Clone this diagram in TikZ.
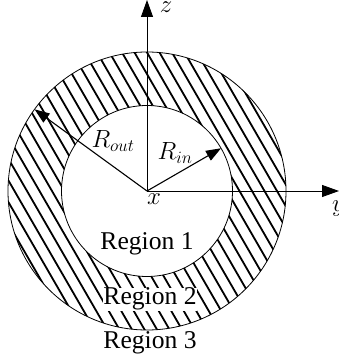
\documentclass[tikz,border=0pt]{standalone}
\usepackage{fontspec}
\setmainfont{Liberation Serif}
\usetikzlibrary{arrows.meta,calc}
\begin{document}
\begin{tikzpicture}[x=1pt,y=1pt,
  axis/.style={line width=0.9pt,-{Triangle[length=17pt,width=12pt]}},
  radius/.style={line width=1.1pt,-{Triangle[length=15pt,width=11pt]}},
  hatch/.style={line width=1.8pt},
  ring/.style={line width=0.8pt},
  regionlbl/.style={font=\fontsize{25.6}{28}\selectfont, inner sep=0.5pt, anchor=base},
  mathlbl/.style={font=\fontsize{24}{26}\selectfont, inner sep=0pt, anchor=base}]
\useasboundingbox (0,0) rectangle (339,364);
\coordinate (O) at (147,173);
% hatching of the ring
\begin{scope}[even odd rule]
  \clip (O) circle (139) (O) circle (85.5);
  \foreach \i in {-24,...,24} {
    \draw[hatch] ($(O)+(5+12.5*\i,0)+(-110,190.5)$) -- ($(O)+(5+12.5*\i,0)+(110,-190.5)$);
  }
\end{scope}
\draw[ring] (O) circle (139);
\draw[ring] (O) circle (85.5);
% axes
\coordinate (ztip) at (147,364);
\coordinate (ytip) at (339,173);
\draw[axis] (O) -- (ztip);
\draw[axis] (O) -- (ytip);
% radii
\coordinate (Pout) at ($(O)+(144:139)$);
\coordinate (Pin) at ($(O)+(30:85.5)$);
\draw[radius] (O) -- (Pout);
\draw[radius] (O) -- (Pin);
% labels
\node[mathlbl] (lz) at (166,351) {$z$};
\node[mathlbl, anchor=base west] (ly) at (332,152) {$y$};
\node[mathlbl] (lx) at (154,159) {$x$};
\node[mathlbl] (lRout) at (113,216) {$R_{out}$};
\node[mathlbl] (lRin) at (175,204) {$R_{in}$};
\node[regionlbl] (r1) at (147,114) {Region 1};
\node[regionlbl, fill=white] (r2) at (150,59) {Region 2};
\node[regionlbl] (r3) at (150,16) {Region 3};
\end{tikzpicture}
\end{document}
